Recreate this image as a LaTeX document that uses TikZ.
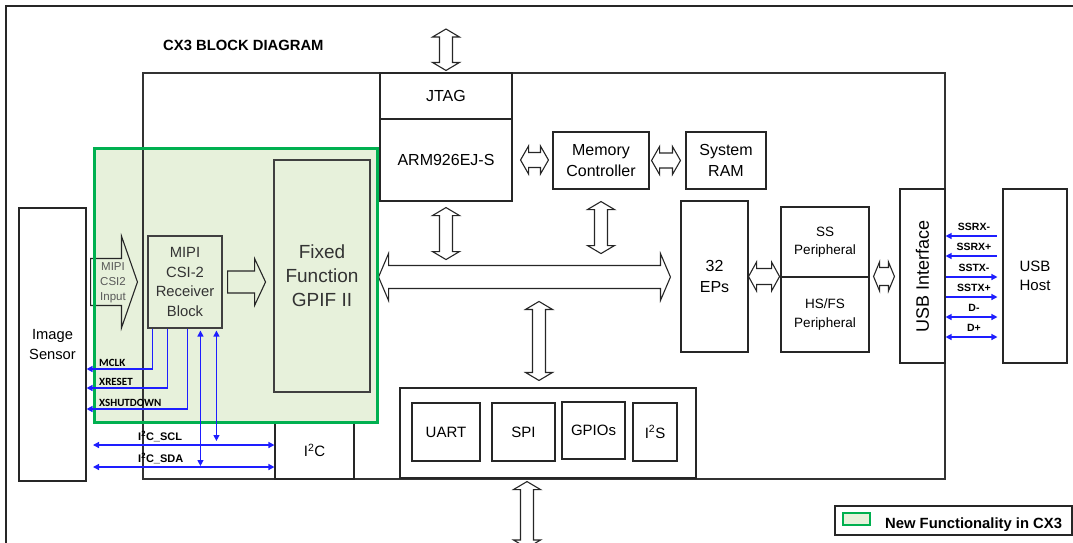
\documentclass[tikz,border=0pt]{standalone}
\usepackage{fontspec}
\setmainfont{Liberation Sans}
\newfontfamily\calfont{Carlito}
\usepackage{graphicx}
\usepackage{tikz}
\usetikzlibrary{arrows.meta,calc,positioning}
\definecolor{cxGreen}{RGB}{0,176,80}
\definecolor{cxFill}{RGB}{231,241,219}
\definecolor{sigBlue}{RGB}{30,30,255}
\definecolor{boxGrey}{RGB}{64,64,64}

% hollow block arrows: points, shaft half width, head half width, head length
\newcommand{\fatArrowV}[5]{%
  \draw[fatArrow] let \p1=#1, \p2=#2 in
    (\x1,\y1) -- (\x1+#4pt,\y1-#5pt) -- (\x1+#3pt,\y1-#5pt) -- (\x1+#3pt,\y2+#5pt)
    -- (\x1+#4pt,\y2+#5pt) -- (\x1,\y2) -- (\x1-#4pt,\y2+#5pt) -- (\x1-#3pt,\y2+#5pt)
    -- (\x1-#3pt,\y1-#5pt) -- (\x1-#4pt,\y1-#5pt) -- cycle;}
\newcommand{\fatArrowH}[5]{%
  \draw[fatArrow] let \p1=#1, \p2=#2 in
    (\x1,\y1) -- (\x1+#5pt,\y1+#4pt) -- (\x1+#5pt,\y1+#3pt) -- (\x2-#5pt,\y1+#3pt)
    -- (\x2-#5pt,\y1+#4pt) -- (\x2,\y1) -- (\x2-#5pt,\y1-#4pt) -- (\x2-#5pt,\y1-#3pt)
    -- (\x1+#5pt,\y1-#3pt) -- (\x1+#5pt,\y1-#4pt) -- cycle;}
\newcommand{\fatArrowR}[5]{%
  \draw[fatArrow] let \p1=#1, \p2=#2 in
    (\x1,\y1+#3pt) -- (\x2-#5pt,\y1+#3pt) -- (\x2-#5pt,\y1+#4pt) -- (\x2,\y1)
    -- (\x2-#5pt,\y1-#4pt) -- (\x2-#5pt,\y1-#3pt) -- (\x1,\y1-#3pt) -- cycle;}

\begin{document}
\begin{tikzpicture}[x=1pt, y=-1pt,
    blk/.style={draw=black!85, line width=1.1pt, align=center, inner sep=0pt,
      font=\fontsize{16}{21}\selectfont},
    newBlk/.style={blk, draw=boxGrey, fill=cxFill, text=black!80},
    fatArrow/.style={draw=black!85, line width=1.1pt, line join=miter},
    sig/.style={draw=sigBlue, line width=1.3pt, >={Triangle[length=6pt,width=6pt]}},
    sigLabel/.style={font=\calfont\bfseries\fontsize{11}{13}\selectfont, inner sep=0pt},
    usbLabel/.style={font=\bfseries\fontsize{10.5}{12}\selectfont, inner sep=1pt}]
    \useasboundingbox (0,0) rectangle (1073,542);
    \clip (0,0) rectangle (1073,542);

    \draw[line width=1.2pt, black!85] (6,560) -- (6,6) -- (1090,6);
    \node[font=\bfseries\fontsize{14.8}{18}\selectfont, anchor=base west, inner sep=0pt]
        (title) at (163,50) {CX3 BLOCK DIAGRAM};

    % CX3 chip
    \fill[cxFill] (94,148) rectangle (377,422);
    \draw[line width=1.3pt, black!80] (143,73) rectangle (945,479);

    \node[blk, minimum width=132pt, minimum height=46pt] (jtag) at (446,96) {JTAG};
    \node[blk, minimum width=132pt, minimum height=82pt] (arm) at (446,160) {ARM926EJ-S};
    \node[blk, minimum width=96pt, minimum height=57pt] (mem) at (601,160.5) {Memory\\Controller};
    \node[blk, minimum width=80pt, minimum height=57pt] (ram) at (726,160.5) {System\\RAM};
    \node[blk, minimum width=67pt, minimum height=151pt] (eps) at (714.5,276.5) {32\\EPs};
    \node[blk, minimum width=88pt, minimum height=70pt, font=\fontsize{13.5}{18}\selectfont]
        (ss) at (825,242) {SS\\Peripheral};
    \node[blk, minimum width=88pt, minimum height=75pt, font=\fontsize{13.5}{18}\selectfont]
        (hs) at (825,314.5) {HS/FS\\Peripheral};
    \node[blk, minimum width=45pt, minimum height=174pt, font=\fontsize{18}{22}\selectfont]
        (usbif) at (922.5,276) {\rotatebox{90}{USB Interface}};
    \node[blk, minimum width=64pt, minimum height=174pt, font=\fontsize{15}{19}\selectfont]
        (host) at (1035,276) {USB\\Host};
    \node[blk, minimum width=67pt, minimum height=273pt, font=\fontsize{14.7}{20}\selectfont]
        (sensor) at (52.5,344.5) {Image\\Sensor};
    \node[newBlk, minimum width=96pt, minimum height=232pt, font=\fontsize{19}{24}\selectfont]
        (gpif) at (322,276) {Fixed\\Function\\GPIF II};
    \node[newBlk, minimum width=74pt, minimum height=92pt, font=\fontsize{14.8}{19.5}\selectfont]
        (mipi) at (185,282) {MIPI\\CSI-2\\Receiver\\Block};
    \node[blk, minimum width=79pt, minimum height=57pt, font=\fontsize{15}{18}\selectfont]
        (i2c) at (314.5,450.5) {I\textsuperscript{2}C};

    \node[blk, minimum width=296pt, minimum height=90pt] (periph) at (548,433) {};
    \node[blk, minimum width=68pt, minimum height=58pt, font=\fontsize{15}{18}\selectfont]
        (uart) at (446,432) {UART};
    \node[blk, minimum width=63pt, minimum height=58pt, font=\fontsize{15}{18}\selectfont]
        (spi) at (523.5,432) {SPI};
    \node[blk, minimum width=63pt, minimum height=57pt, font=\fontsize{15}{18}\selectfont]
        (gpio) at (593.5,430.5) {GPIOs};
    \node[blk, minimum width=44pt, minimum height=58pt, font=\fontsize{15}{18}\selectfont]
        (i2s) at (655,432) {I\textsuperscript{2}S};

    % block arrows
    \coordinate (dbgPort) at (446,29);
    \coordinate (extPort) at (527,548);
    \fatArrowV{(dbgPort)}{($(jtag.north)+(0,-2)$)}{6.5}{13.5}{8}
    \fatArrowV{($(arm.south)+(0,6)$)}{($(arm.south)+(0,58)$)}{6.5}{13.5}{8}
    \fatArrowV{($(mem.south)+(0,12)$)}{($(mem.south)+(0,64)$)}{6.5}{13.5}{8}
    \fatArrowV{($(periph.north)+(-9,-86)$)}{($(periph.north)+(-9,-7)$)}{6.5}{13.5}{8}
    \fatArrowV{($(periph.south)+(-21,3)$)}{(extPort)}{6.5}{13.5}{8}
    \fatArrowH{($(arm.east)+(8,0)$)}{($(mem.west)+(-4,0)$)}{7.5}{14}{8}
    \fatArrowH{($(mem.east)+(2,0)$)}{($(ram.west)+(-5,0)$)}{7.5}{14}{8}
    \fatArrowH{($(gpif.east)+(8,1)$)}{($(eps.west)+(-10,0)$)}{11.5}{23.5}{10}
    \fatArrowH{(eps.east)}{($(eps.east)+(31,0)$)}{8}{14.5}{8}
    \fatArrowH{($(hs.north east)+(4,0)$)}{($(usbif.west)+(-5,0)$)}{9}{14.5}{6}
    \fatArrowR{($(sensor.east |- mipi.west)+(4,0)$)}{($(mipi.west)+(-10,0)$)}{23.5}{46}{16}
    \fatArrowR{($(mipi.east)+(5,0)$)}{($(mipi.east)+(43,0)$)}{11}{23.5}{11}
    \node[font=\fontsize{11.5}{15}\selectfont, text=black!65, align=center, inner sep=0pt]
        (csiIn) at (113,283) {MIPI\\CSI2\\Input};

    \draw[cxGreen, line width=3pt] (94,148) rectangle (377,422);

    % sensor control and I2C
    \draw[sig,->] ($(mipi.south west)+(5,0)$) |- (sensor.east |- 0,369);
    \draw[sig,->] ($(mipi.south west)+(20,0)$) |- (sensor.east |- 0,388);
    \draw[sig,->] ($(mipi.south west)+(40,0)$) |- (sensor.east |- 0,409);
    \node[sigLabel, anchor=base west] (mclk) at (99,366) {MCLK};
    \node[sigLabel, anchor=base west] (xreset) at (99,385.5) {XRESET};
    \node[sigLabel, anchor=base west] (xshut) at (99,406.5) {XSHUTDOWN};

    \coordinate (sclL) at (93,445);
    \coordinate (sdaL) at (93,467);
    \coordinate (sclTap) at ($(mipi.south west)+(69,0)$);
    \coordinate (sdaTap) at ($(mipi.south west)+(53,0)$);
    \draw[sig,<->] (sclL) -- (i2c.west |- sclL);
    \draw[sig,<->] (sdaL) -- (i2c.west |- sdaL);
    \draw[sig,<->, shorten <=2pt, shorten >=4pt] (sclTap) -- (sclTap |- sclL);
    \draw[sig,<->, shorten <=2pt, shorten >=1pt] (sdaTap) -- (sdaTap |- sdaL);
    \node[usbLabel, inner sep=0pt, font=\bfseries\fontsize{11}{13}\selectfont, anchor=base west]
        (sclLbl) at (138,440) {I\textsuperscript{2}C\_SCL};
    \node[usbLabel, inner sep=0pt, font=\bfseries\fontsize{11}{13}\selectfont, anchor=base west]
        (sdaLbl) at (138,462.5) {I\textsuperscript{2}C\_SDA};

    % USB lanes
    \foreach \sname/\yy in {SSRX-/236, SSRX+/256}
        \draw[sig,<-,shorten >=5pt] (usbif.east |- 0,\yy) -- (host.west |- 0,\yy)
            node[usbLabel, midway, above=4pt] {\sname};
    \foreach \sname/\yy in {SSTX-/277, SSTX+/297}
        \draw[sig,->,shorten >=5pt] (usbif.east |- 0,\yy) -- (host.west |- 0,\yy)
            node[usbLabel, midway, above=4pt] {\sname};
    \foreach \sname/\yy in {D-/317, D+/337}
        \draw[sig,<->,shorten >=5pt] (usbif.east |- 0,\yy) -- (host.west |- 0,\yy)
            node[usbLabel, midway, above=4pt] {\sname};

    % legend
    \node[draw=black!85, line width=1.1pt, minimum width=237pt, minimum height=29pt, inner sep=0pt]
        (legend) at (953.5,520.5) {};
    \node[draw=cxGreen, fill=cxFill, line width=1.5pt, minimum width=27pt, minimum height=12pt,
        inner sep=0pt] (swatch) at (856.5,519) {};
    \node[font=\bfseries\fontsize{14.8}{17}\selectfont, anchor=base west, inner sep=0pt]
        (legendText) at (885,528) {New Functionality in CX3};
\end{tikzpicture}
\end{document}
